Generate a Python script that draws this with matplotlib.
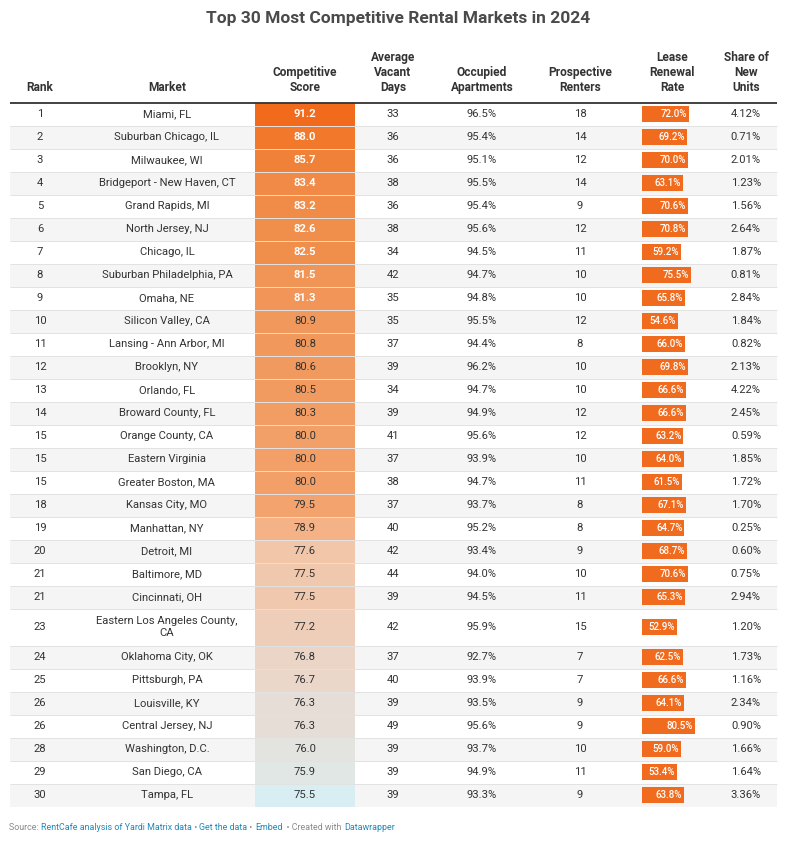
import textwrap
import matplotlib
matplotlib.use('Agg')
import matplotlib.pyplot as plt
import numpy as np
from matplotlib.colors import LinearSegmentedColormap

plt.rcParams['font.family'] = ['Roboto', 'DejaVu Sans']

# table data
ranks = [1, 2, 3, 4, 5, 6, 7, 8, 9, 10, 11, 12, 13, 14, 15, 15, 15, 18, 19, 20,
         21, 21, 23, 24, 25, 26, 26, 28, 29, 30]
markets = ['Miami, FL', 'Suburban Chicago, IL', 'Milwaukee, WI', 'Bridgeport - New Haven, CT',
           'Grand Rapids, MI', 'North Jersey, NJ', 'Chicago, IL', 'Suburban Philadelphia, PA',
           'Omaha, NE', 'Silicon Valley, CA', 'Lansing - Ann Arbor, MI', 'Brooklyn, NY',
           'Orlando, FL', 'Broward County, FL', 'Orange County, CA', 'Eastern Virginia',
           'Greater Boston, MA', 'Kansas City, MO', 'Manhattan, NY', 'Detroit, MI',
           'Baltimore, MD', 'Cincinnati, OH', 'Eastern Los Angeles County, CA',
           'Oklahoma City, OK', 'Pittsburgh, PA', 'Louisville, KY', 'Central Jersey, NJ',
           'Washington, D.C.', 'San Diego, CA', 'Tampa, FL']
scores = [91.2, 88.0, 85.7, 83.4, 83.2, 82.6, 82.5, 81.5, 81.3, 80.9, 80.8, 80.6, 80.5,
          80.3, 80.0, 80.0, 80.0, 79.5, 78.9, 77.6, 77.5, 77.5, 77.2, 76.8, 76.7, 76.3,
          76.3, 76.0, 75.9, 75.5]
vacant_days = [33, 36, 36, 38, 36, 38, 34, 42, 35, 35, 37, 39, 34, 39, 41, 37, 38, 37, 40,
               42, 44, 39, 42, 37, 40, 39, 49, 39, 39, 39]
occupied = [96.5, 95.4, 95.1, 95.5, 95.4, 95.6, 94.5, 94.7, 94.8, 95.5, 94.4, 96.2, 94.7,
            94.9, 95.6, 93.9, 94.7, 93.7, 95.2, 93.4, 94.0, 94.5, 95.9, 92.7, 93.9, 93.5,
            95.6, 93.7, 94.9, 93.3]
prospective = [18, 14, 12, 14, 9, 12, 11, 10, 10, 12, 8, 10, 10, 12, 12, 10, 11, 8, 8, 9,
               10, 11, 15, 7, 7, 9, 9, 10, 11, 9]
lease_renewal = [72.0, 69.2, 70.0, 63.1, 70.6, 70.8, 59.2, 75.5, 65.8, 54.6, 66.0, 69.8,
                 66.6, 66.6, 63.2, 64.0, 61.5, 67.1, 64.7, 68.7, 70.6, 65.3, 52.9, 62.5,
                 66.6, 64.1, 80.5, 59.0, 53.4, 63.8]
new_units = [4.12, 0.71, 2.01, 1.23, 1.56, 2.64, 1.87, 0.81, 2.84, 1.84, 0.82, 2.13, 4.22,
             2.45, 0.59, 1.85, 1.72, 1.70, 0.25, 0.60, 0.75, 2.94, 1.20, 1.73, 1.16, 2.34,
             0.90, 1.66, 1.64, 3.36]
headers = ['Rank', 'Market', 'Competitive\nScore', 'Average\nVacant\nDays', 'Occupied\nApartments',
           'Prospective\nRenters', 'Lease\nRenewal\nRate', 'Share of\nNew\nUnits']

# heat scale for the score column
score_stops = [(75.5, '#d8eef3'), (76.0, '#e3e4df'), (76.8, '#ebd5c6'), (77.6, '#f1c6a9'),
               (78.9, '#f4b286'), (79.5, '#f3a46e'), (80.5, '#f19b60'), (82.5, '#f08e4c'),
               (85.7, '#f08138'), (88.0, '#f2782c'), (91.2, '#f26a1b')]
lo, hi = score_stops[0][0], score_stops[-1][0]
cmap = LinearSegmentedColormap.from_list(
    'score', [((v - lo) / (hi - lo), c) for v, c in score_stops])

W, H = 797, 841
fig = plt.figure(figsize=(W / 100, H / 100), dpi=100)
ax = fig.add_axes([0, 0, 1, 1])
ax.set_xlim(0, W)
ax.set_ylim(H, 0)
ax.axis('off')

TXT = '#333333'
x_left, x_right = 10, 777
col_x = [40, 167, 305, 393, 482, 580, 672, 746]
score_left, score_w = 255, 100
bar_left, bar_scale = 642, 0.655
bar_color = '#f06b1d'

# row layout
labels = [textwrap.fill(m, 28) for m in markets]
row_h = np.array([23.0 if '\n' not in s else 37.0 for s in labels])
top = 102.5
edges = top + np.concatenate([[0], np.cumsum(row_h)])
centers = (edges[:-1] + edges[1:]) / 2

ax.text(W / 2, 18, 'Top 30 Most Competitive Rental Markets in 2024', ha='center', va='center',
        fontsize=12.5, fontweight='bold', color='#4a4a4a')

for x, h in zip(col_x, headers):
    ax.text(x, 94, h, ha='center', va='bottom', fontsize=8.6, fontweight='bold',
            color=TXT, linespacing=1.2)

# zebra stripes
stripe = ['white' if i % 2 == 0 else '#f5f5f5' for i in range(len(ranks))]
ax.barh(centers, x_right - x_left, left=x_left, height=row_h, color=stripe, zorder=0)

# score heat cells
ax.barh(centers, score_w, left=score_left, height=row_h,
        color=[cmap((s - lo) / (hi - lo)) for s in scores], zorder=1)

# separators
ax.hlines(edges[1:-1], x_left, x_right, color='#e2e2e2', lw=0.7, zorder=2)
ax.hlines(top, x_left, x_right, color='#333333', lw=1.3, zorder=3)

# lease renewal bars
ax.barh(centers, np.array(lease_renewal) * bar_scale, left=bar_left, height=15.5,
        color=bar_color, zorder=3)

fs = 8.1
for i in range(len(ranks)):
    y = centers[i]
    ax.text(col_x[0], y, str(ranks[i]), ha='center', va='center', fontsize=fs, color=TXT)
    ax.text(col_x[1], y, labels[i], ha='center', va='center', fontsize=fs, color=TXT,
            linespacing=1.35)
    if scores[i] >= 81.0:
        ax.text(col_x[2], y, f'{scores[i]:.1f}', ha='center', va='center', fontsize=fs,
                color='white', fontweight='bold', zorder=4)
    else:
        ax.text(col_x[2], y, f'{scores[i]:.1f}', ha='center', va='center', fontsize=fs,
                color=TXT, zorder=4)
    ax.text(col_x[3], y, str(vacant_days[i]), ha='center', va='center', fontsize=fs, color=TXT)
    ax.text(col_x[4], y, f'{occupied[i]:.1f}%', ha='center', va='center', fontsize=fs, color=TXT)
    ax.text(col_x[5], y, str(prospective[i]), ha='center', va='center', fontsize=fs, color=TXT)
    ax.text(bar_left + lease_renewal[i] * bar_scale - 2, y, f'{lease_renewal[i]:.1f}%',
            ha='right', va='center', fontsize=7.0, color='white', fontweight='medium', zorder=4)
    ax.text(col_x[7], y, f'{new_units[i]:.2f}%', ha='center', va='center', fontsize=fs, color=TXT)

# footer pieces laid out one after another
GRAY, BLUE = '#8a8a8a', '#1f88b8'
pieces = [('Source: ', GRAY), ('RentCafe analysis of Yardi Matrix data', BLUE), (' \u2022 ', GRAY),
          ('Get the data', BLUE), (' \u2022 ', GRAY), ('Embed', BLUE),
          ('  \u2022 Created with ', GRAY), ('Datawrapper', BLUE)]
renderer = fig.canvas.get_renderer()


def text_width(s):
    # measure with a guard character so trailing spaces are counted
    t1 = ax.text(0, 0, s + '|', fontsize=6.4)
    t2 = ax.text(0, 0, '|', fontsize=6.4)
    w = t1.get_window_extent(renderer).width - t2.get_window_extent(renderer).width
    t1.remove()
    t2.remove()
    return w


x = 9
for s, c in pieces:
    ax.text(x, 827, s, ha='left', va='center', fontsize=6.4, color=c)
    x += text_width(s)

fig.savefig('out.png', dpi=100)
